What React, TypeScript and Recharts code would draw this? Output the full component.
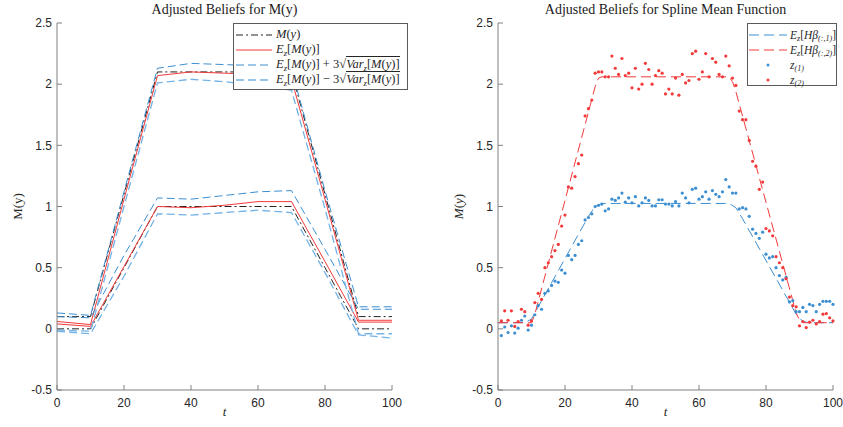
import React from "react";
import { ComposedChart, LineChart, Line, Scatter, XAxis, YAxis } from "recharts";

// left panel: adjusted beliefs at the knots
const tKnots = [0, 10, 20, 30, 40, 50, 60, 70, 80, 90, 100];
const trueHigh = [0.1, 0.1, 1.1, 2.1, 2.1, 2.1, 2.1, 2.1, 1.1, 0.1, 0.1];
const trueLow = [0, 0, 0.5, 1, 1, 1, 1, 1, 0.5, 0, 0];
const meanHigh = [0.06, 0.035, 1.06, 2.07, 2.1, 2.09, 2.08, 2.04, 1.06, 0.07, 0.07];
const meanLow = [0.04, 0.02, 0.51, 1.0, 0.99, 1.01, 1.04, 1.04, 0.55, 0.055, 0.055];
const upperHigh = [0.13, 0.11, 1.12, 2.13, 2.17, 2.16, 2.15, 2.12, 1.13, 0.18, 0.18];
const upperLow = [0.1, 0.09, 0.6, 1.07, 1.06, 1.09, 1.12, 1.13, 0.65, 0.16, 0.16];
const lowerHigh = [-0.01, -0.02, 1.0, 2.01, 2.04, 2.02, 1.99, 1.95, 0.98, -0.04, -0.04];
const lowerLow = [-0.02, -0.04, 0.43, 0.94, 0.93, 0.95, 0.97, 0.95, 0.46, -0.05, -0.075];

// right panel: spline means
const splineT1 = [0, 8, 10, 12, 27, 29, 31, 69, 71, 73, 89, 91, 93, 100];
const splineV1 = [0.05, 0.05, 0.08, 0.18, 0.92, 1.0, 1.025, 1.025, 0.99, 0.9, 0.12, 0.06, 0.05, 0.05];
const splineT2 = [0, 10, 11, 29, 30, 31, 69, 70, 71, 89, 90, 91, 100];
const splineV2 = [0.05, 0.05, 0.12, 1.98, 2.05, 2.06, 2.06, 2.02, 1.94, 0.13, 0.07, 0.05, 0.05];

// observations, t = 1..100
const z1 = [
  -0.055, 0.015, -0.03, 0.025, -0.035, 0.005, 0.07, 0.105, -0.01, 0.03,
  0.115, 0.19, 0.16, 0.29, 0.31, 0.355, 0.39, 0.38, 0.48, 0.455,
  0.6, 0.565, 0.6, 0.69, 0.72, 0.89, 0.91, 0.94, 1.0, 1.01,
  1.02, 0.965, 0.98, 1.06, 1.05, 1.07, 1.11, 1.035, 1.07, 1.03,
  1.08, 1.005, 1.03, 1.07, 1.05, 1.005, 1.005, 1.055, 1.055, 1.02,
  1.02, 1.005, 1.04, 1.005, 1.11, 1.07, 1.03, 1.14, 1.15, 1.06,
  1.08, 1.12, 1.06, 1.13, 1.1, 1.08, 1.12, 1.22, 1.16, 1.11,
  1.11, 0.98, 0.99, 0.98, 0.92, 0.815, 0.78, 0.74, 0.79, 0.61,
  0.58, 0.59, 0.5, 0.435, 0.4, 0.42, 0.22, 0.23, 0.14, 0.14,
  0.175, 0.14, 0.2, 0.19, 0.14, 0.2, 0.225, 0.225, 0.225, 0.2,
];
const z2 = [
  0.065, 0.147, 0.07, 0.147, 0.02, 0.06, 0.16, 0.14, 0.03, 0.065,
  0.215, 0.29, 0.24, 0.5, 0.54, 0.59, 0.64, 0.69, 0.84, 0.93,
  1.16, 1.15, 1.245, 1.35, 1.42, 1.74, 1.8, 1.87, 2.09, 2.1,
  2.1, 2.06, 2.06, 2.23, 2.13, 2.08, 2.21, 2.07, 2.09, 1.97,
  2.13, 1.96, 2.0, 2.17, 2.12, 2.0, 2.07, 2.11, 2.09, 1.92,
  1.96, 1.92, 2.05, 1.91, 2.08, 2.01, 2.03, 2.25, 2.27, 2.04,
  2.1, 2.25, 2.06, 2.21, 2.18, 2.08, 2.06, 2.23, 2.15, 2.05,
  1.99, 1.78, 1.71, 1.71, 1.54, 1.37, 1.33, 1.14, 1.2, 0.82,
  0.8, 0.76, 0.59, 0.54, 0.5, 0.41, 0.26, 0.19, 0.18, 0.025,
  0.06, 0.01, 0.055, 0.07, 0.04, 0.06, 0.12, 0.125, 0.09, 0.065,
];

const xTicks = [0, 20, 40, 60, 80, 100];
const yTicks = [-0.5, 0, 0.5, 1, 1.5, 2, 2.5];

const BLUE = "#3d8fd1";
const BLUE_LIGHT = "#74b3e6";
const RED = "#f23a3a";
const AXIS = "#808080";
const SERIF = "'Liberation Serif', 'Times New Roman', serif";
const SANS = "'Liberation Sans', Arial, sans-serif";

const leftData = tKnots.map((t, i) => ({
  t,
  m1: trueHigh[i],
  m2: trueLow[i],
  e1: meanHigh[i],
  e2: meanLow[i],
  u1: upperHigh[i],
  u2: upperLow[i],
  l1: lowerHigh[i],
  l2: lowerLow[i],
}));
const spline1 = splineT1.map((t, i) => ({ t, v: splineV1[i] }));
const spline2 = splineT2.map((t, i) => ({ t, v: splineV2[i] }));
const obs1 = z1.map((v, i) => ({ t: i + 1, v }));
const obs2 = z2.map((v, i) => ({ t: i + 1, v }));

const W = 420;
const H = 427;
const margin = { top: 23, right: 28, bottom: 7, left: 17 };
const tickStyle = { fontSize: 12, fill: "#262626", fontFamily: SANS };

const sub = (s: string) => (
  <sub style={{ fontSize: "0.7em", verticalAlign: "-0.3em", lineHeight: 0, fontStyle: "italic" }}>{s}</sub>
);

function yLabel(italic: boolean) {
  return (props: any) => {
    const vb = props.viewBox || { x: 17, y: 23, height: 367 };
    const x = vb.x + 5;
    const y = vb.y + vb.height / 2;
    return (
      <text x={x} y={y} transform={`rotate(-90 ${x} ${y})`} textAnchor="middle" fontFamily={SERIF} fontSize={13} fill="#262626">
        {italic ? (
          <>
            <tspan fontStyle="italic">M</tspan>(<tspan fontStyle="italic">y</tspan>)
          </>
        ) : (
          "M(y)"
        )}
      </text>
    );
  };
}

function xLabel(props: any) {
  const vb = props.viewBox || { x: 57, y: 390, width: 335 };
  return (
    <text x={vb.x + vb.width / 2} y={vb.y + 26} textAnchor="middle" fontFamily={SERIF} fontStyle="italic" fontSize={13} fill="#262626">
      t
    </text>
  );
}

function axesFor(italicY: boolean) {
  return [
    <XAxis
      key="xb"
      xAxisId={0}
      dataKey="t"
      type="number"
      domain={[0, 100]}
      ticks={xTicks}
      stroke={AXIS}
      tickSize={-5}
      tickMargin={13}
      tick={tickStyle}
      height={30}
      label={{ content: xLabel }}
    />,
    <XAxis key="xt" xAxisId="top" orientation="top" dataKey="t" type="number" domain={[0, 100]} ticks={xTicks} stroke={AXIS} tickSize={-5} tick={false} height={0} />,
    <YAxis
      key="yl"
      yAxisId={0}
      type="number"
      domain={[-0.5, 2.5]}
      ticks={yTicks}
      stroke={AXIS}
      tickSize={-5}
      tickMargin={10}
      tick={tickStyle}
      width={40}
      label={{ content: yLabel(italicY) }}
    />,
    <YAxis key="yr" yAxisId="r" orientation="right" type="number" domain={[-0.5, 2.5]} ticks={yTicks} stroke={AXIS} tickSize={-5} tick={false} width={0} />,
  ];
}

const titleStyle: React.CSSProperties = {
  position: "absolute",
  top: 2,
  width: 335,
  textAlign: "center",
  fontFamily: SERIF,
  fontSize: 14,
  color: "#1a1a1a",
  whiteSpace: "nowrap",
};

const legendBox: React.CSSProperties = {
  position: "absolute",
  top: 23,
  background: "#fff",
  border: "1px solid #5a5a5a",
  fontFamily: SERIF,
  color: "#262626",
  boxSizing: "border-box",
  paddingTop: 3,
};

function LegendRow({ sample, children }: { sample: React.ReactNode; children: React.ReactNode }) {
  return (
    <div style={{ display: "flex", alignItems: "center", height: 15, whiteSpace: "nowrap" }}>
      <svg width={40} height={10} style={{ flex: "none" }}>
        {sample}
      </svg>
      <span style={{ marginLeft: 2 }}>{children}</span>
    </div>
  );
}

const sqrtPart = (
  <>
    3√
    <span style={{ borderTop: "1px solid #262626", paddingTop: 0 }}>
      <i>Var</i>
      {sub("z")}[<i>M</i>(<i>y</i>)]
    </span>
  </>
);

export default function App() {
  return (
    <div style={{ position: "absolute", left: 0, top: 0, width: 843, height: 427, background: "#fff" }}>
      <div style={{ position: "absolute", left: 0, top: 0 }}>
        <LineChart width={W} height={H} data={leftData} margin={margin}>
          {axesFor(false)}
          <Line dataKey="m1" stroke="#222" strokeWidth={1} strokeDasharray="7 3 2 3" dot={false} isAnimationActive={false} />
          <Line dataKey="m2" stroke="#222" strokeWidth={1} strokeDasharray="7 3 2 3" dot={false} isAnimationActive={false} />
          <Line dataKey="e1" stroke={RED} strokeWidth={1} dot={false} isAnimationActive={false} />
          <Line dataKey="e2" stroke={RED} strokeWidth={1} dot={false} isAnimationActive={false} />
          <Line dataKey="u1" stroke={BLUE} strokeWidth={1} strokeDasharray="8 4" dot={false} isAnimationActive={false} />
          <Line dataKey="u2" stroke={BLUE} strokeWidth={1} strokeDasharray="8 4" dot={false} isAnimationActive={false} />
          <Line dataKey="l1" stroke={BLUE_LIGHT} strokeWidth={1.3} strokeDasharray="8 4" dot={false} isAnimationActive={false} />
          <Line dataKey="l2" stroke={BLUE_LIGHT} strokeWidth={1.3} strokeDasharray="8 4" dot={false} isAnimationActive={false} />
        </LineChart>
        <div style={{ ...titleStyle, left: 57 }}>Adjusted Beliefs for M(y)</div>
        <div style={{ ...legendBox, left: 233, width: 175, height: 67, fontSize: 12.5 }}>
          <LegendRow sample={<line x1={2} y1={5} x2={38} y2={5} stroke="#222" strokeDasharray="7 3 2 3" />}>
            <i>M</i>(<i>y</i>)
          </LegendRow>
          <LegendRow sample={<line x1={2} y1={5} x2={38} y2={5} stroke={RED} />}>
            <i>E</i>
            {sub("z")}[<i>M</i>(<i>y</i>)]
          </LegendRow>
          <LegendRow sample={<line x1={2} y1={5} x2={38} y2={5} stroke={BLUE} strokeDasharray="8 4" />}>
            <i>E</i>
            {sub("z")}[<i>M</i>(<i>y</i>)] + {sqrtPart}
          </LegendRow>
          <LegendRow sample={<line x1={2} y1={5} x2={38} y2={5} stroke={BLUE_LIGHT} strokeWidth={1.5} strokeDasharray="8 4" />}>
            <i>E</i>
            {sub("z")}[<i>M</i>(<i>y</i>)] − {sqrtPart}
          </LegendRow>
        </div>
      </div>

      <div style={{ position: "absolute", left: 441, top: 0 }}>
        <ComposedChart width={W} height={H} margin={margin}>
          {axesFor(true)}
          <Line data={spline1} dataKey="v" stroke={BLUE} strokeWidth={1} strokeDasharray="10 5" dot={false} isAnimationActive={false} />
          <Line data={spline2} dataKey="v" stroke={RED} strokeWidth={1} strokeDasharray="10 5" dot={false} isAnimationActive={false} />
          <Scatter
            data={obs1}
            dataKey="v"
            isAnimationActive={false}
            shape={(p: any) => <circle cx={p.cx} cy={p.cy} r={1.6} fill={BLUE} />}
          />
          <Scatter
            data={obs2}
            dataKey="v"
            isAnimationActive={false}
            shape={(p: any) => <circle cx={p.cx} cy={p.cy} r={1.6} fill={RED} />}
          />
        </ComposedChart>
        <div style={{ ...titleStyle, left: 57 }}>Adjusted Beliefs for Spline Mean Function</div>
        <div style={{ ...legendBox, left: 306, width: 90, height: 63, fontSize: 11.5 }}>
          <LegendRow sample={<line x1={1} y1={5} x2={39} y2={5} stroke={BLUE} strokeDasharray="10 5" />}>
            <i>E</i>
            {sub("z")}[<i>Hβ</i>
            {sub("(:,1)")}]
          </LegendRow>
          <LegendRow sample={<line x1={1} y1={5} x2={39} y2={5} stroke={RED} strokeDasharray="10 5" />}>
            <i>E</i>
            {sub("z")}[<i>Hβ</i>
            {sub("(:,2)")}]
          </LegendRow>
          <LegendRow sample={<circle cx={20} cy={5} r={1.5} fill={BLUE} />}>
            <i>z</i>
            {sub("(1)")}
          </LegendRow>
          <LegendRow sample={<circle cx={20} cy={5} r={1.5} fill={RED} />}>
            <i>z</i>
            {sub("(2)")}
          </LegendRow>
        </div>
      </div>
    </div>
  );
}
